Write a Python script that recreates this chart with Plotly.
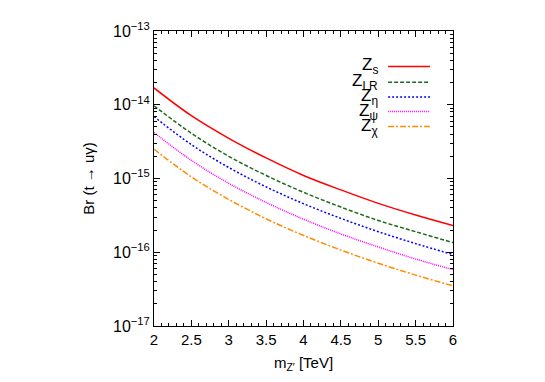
import plotly.graph_objects as go

mass = [2.0, 2.5, 3.0, 3.5, 4.0, 4.5, 5.0, 5.5, 6.0]
br_s   = [1.69e-14, 7.1e-15, 3.5e-15, 1.9e-15, 1.1e-15, 7.0e-16, 4.6e-16, 3.2e-16, 2.3e-16]
br_lr  = [9.7e-15, 4.1e-15, 2.0e-15, 1.1e-15, 6.5e-16, 4.1e-16, 2.7e-16, 1.9e-16, 1.35e-16]
br_eta = [6.9e-15, 2.88e-15, 1.41e-15, 7.7e-16, 4.55e-16, 2.88e-16, 1.9e-16, 1.31e-16, 9.3e-17]
br_psi = [4.2e-15, 1.76e-15, 8.6e-16, 4.74e-16, 2.81e-16, 1.77e-16, 1.18e-16, 8.1e-17, 5.8e-17]
br_chi = [2.5e-15, 1.05e-15, 5.2e-16, 2.84e-16, 1.69e-16, 1.07e-16, 7.1e-17, 4.9e-17, 3.5e-17]

names = ["Z<sub>s</sub>", "Z<sub>LR</sub>", "Z<sub>η</sub>", "Z<sub>ψ</sub>", "Z<sub>χ</sub>"]
series = [br_s, br_lr, br_eta, br_psi, br_chi]
colors = ["#ff0000", "#1e6b1e", "#0000ff", "#ff00ff", "#ff8c00"]
dashes = ["solid", "4px,2px", "2px,2px", "1px,1px", "6px,2px,2px,2px"]

ytickvals = [1e-17, 1e-16, 1e-15, 1e-14, 1e-13]
yticktext = ["10<sup>−17</sup>", "10<sup>−16</sup>", "10<sup>−15</sup>", "10<sup>−14</sup>", "10<sup>−13</sup>"]
yminor = [m * 10.0 ** e for e in range(-17, -13) for m in range(2, 10)]

fig = go.Figure()
for ys, c, d in zip(series, colors, dashes):
    fig.add_trace(go.Scatter(x=mass, y=ys, mode="lines", line=dict(color=c, width=1.5, dash=d, shape="spline"),
                             showlegend=False, hoverinfo="skip"))

# legend drawn gnuplot style (text right, sample on the right)
leg_y = [0.880, 0.826, 0.776, 0.727, 0.676]
for nm, c, d, yy in zip(names, colors, dashes, leg_y):
    fig.add_shape(type="line", xref="paper", yref="paper", x0=0.783, x1=0.923, y0=yy, y1=yy,
                  line=dict(color=c, width=1.5, dash=d))
    fig.add_annotation(xref="paper", yref="paper", x=0.756, y=yy, text=nm, showarrow=False,
                       xanchor="right", yanchor="middle", font=dict(size=17, color="black"))

axis_common = dict(showline=True, linecolor="black", linewidth=1, mirror="ticks", ticks="inside",
                   tickcolor="black", showgrid=False, zeroline=False)

fig.update_xaxes(range=[2, 6], tickmode="array", tickvals=mass,
                 ticktext=["2", "2.5", "3", "3.5", "4", "4.5", "5", "5.5", "6"], ticklen=6,
                 tickfont=dict(size=15),
                 minor=dict(ticks="inside", ticklen=3, dtick=0.1, tick0=2, tickcolor="black", showgrid=False),
                 title=dict(text="m<sub>Z′</sub> [TeV]", standoff=10, font=dict(size=15)), **axis_common)
fig.update_yaxes(type="log", range=[-17, -13], tickmode="array", tickvals=ytickvals, ticktext=yticktext,
                 ticklen=6, tickfont=dict(size=16),
                 minor=dict(ticks="inside", ticklen=3, tickmode="array", tickvals=yminor, tickcolor="black",
                            showgrid=False),
                 title=dict(text="Br (t → uγ)", standoff=14, font=dict(size=15)), **axis_common)

fig.update_layout(width=545, height=382, margin=dict(l=146, r=100, t=19, b=64),
                  plot_bgcolor="white", paper_bgcolor="white",
                  font=dict(family="Liberation Sans, Arial, sans-serif", size=14, color="black"))

fig.write_html("out.html")
